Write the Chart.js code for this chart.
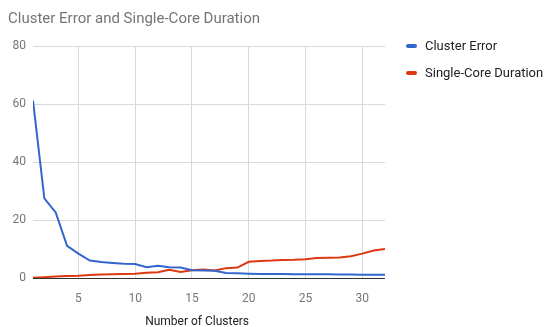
<!DOCTYPE html>
<html lang="en">
<head>
    <meta charset="UTF-8">
    <script src="https://cdn.jsdelivr.net/npm/chart.js"></script>
    <title>Cluster Error and Single-Core Duration</title>
    <style>
        html, body { margin: 0; padding: 0; background: #fff; }
        #wrap { position: relative; width: 548px; height: 327px; }
        #legend { position: absolute; left: 406px; top: 37px; font: 13px Roboto, sans-serif; color: #222; }
        #legend div { height: 27px; line-height: 18px; white-space: nowrap; }
        #legend span { display: inline-block; width: 11px; height: 4px; border-radius: 2px; margin-right: 8px; vertical-align: middle; position: relative; top: -1px; }
    </style>
</head>
<body>
<div id="wrap">
    <canvas id="myChart" width="548" height="327"></canvas>
    <div id="legend"></div>
</div>

<script>
    // datos
    var clusters = [];
    for (var i = 1; i <= 32; i++) clusters.push(i);

    var clusterError = [61.2, 27.5, 22.6, 11.1, 8.4, 6.0, 5.5, 5.2, 4.9, 4.8,
        3.7, 4.2, 3.7, 3.6, 2.7, 2.6, 2.5, 1.7, 1.6, 1.5,
        1.4, 1.4, 1.4, 1.3, 1.3, 1.3, 1.3, 1.2, 1.2, 1.1, 1.1, 1.1];

    var singleCore = [0.1, 0.3, 0.5, 0.7, 0.8, 1.0, 1.2, 1.3, 1.4, 1.5,
        1.8, 2.0, 2.8, 2.1, 2.7, 2.9, 2.6, 3.4, 3.6, 5.6,
        5.9, 6.0, 6.2, 6.3, 6.5, 6.9, 7.0, 7.1, 7.5, 8.4, 9.5, 10.0];

    var xTicks = [5, 10, 15, 20, 25, 30];
    var yTicks = [0, 20, 40, 60, 80];

    var seriesNames = ['Cluster Error', 'Single-Core Duration'];
    var colors = ['#3366cc', '#dc3912'];

    function toPoints(arr) {
        return arr.map(function (v, i) { return { x: clusters[i], y: v }; });
    }

    var ctx = document.getElementById('myChart').getContext('2d');
    var myChart = new Chart(ctx, {
        type: 'line',
        data: {
            datasets: [{
                label: seriesNames[0],
                data: toPoints(clusterError),
                borderColor: colors[0],
                backgroundColor: colors[0],
                borderWidth: 2,
                pointRadius: 0,
                tension: 0
            }, {
                label: seriesNames[1],
                data: toPoints(singleCore),
                borderColor: colors[1],
                backgroundColor: colors[1],
                borderWidth: 2,
                pointRadius: 0,
                tension: 0
            }]
        },
        options: {
            responsive: false,
            animation: false,
            layout: { padding: { left: 8, right: 163, top: 0, bottom: 0 } },
            plugins: {
                legend: { display: false },
                tooltip: { enabled: false },
                title: {
                    display: true,
                    text: 'Cluster Error and Single-Core Duration',
                    align: 'start',
                    color: '#757575',
                    font: { family: 'Roboto', size: 15, weight: 'normal' },
                    padding: { top: 10, bottom: 18 }
                }
            },
            scales: {
                x: {
                    type: 'linear',
                    min: 1,
                    max: 32,
                    afterBuildTicks: function (axis) {
                        axis.ticks = xTicks.map(function (v) { return { value: v }; });
                    },
                    afterFit: function (axis) { axis.height = 49; },
                    grid: { color: '#d9d9d9', drawTicks: false },
                    border: { display: false },
                    ticks: {
                        color: '#757575',
                        font: { family: 'Roboto', size: 12 },
                        padding: 14,
                        maxRotation: 0
                    },
                    title: {
                        display: true,
                        // espacios al final para correr el titulo a la izquierda como en el original
                        text: 'Number of Clusters\u00a0\u00a0\u00a0\u00a0\u00a0\u00a0\u00a0\u00a0',
                        color: '#222',
                        font: { family: 'Roboto', size: 12 },
                        padding: { top: 0, bottom: -2.5 }
                    }
                },
                y: {
                    min: 0,
                    max: 80,
                    afterBuildTicks: function (axis) {
                        axis.ticks = yTicks.map(function (v) { return { value: v }; });
                    },
                    afterFit: function (axis) { axis.width = 25; },
                    grid: {
                        drawTicks: false,
                        color: function (c) { return c.tick && c.tick.value === 0 ? '#333' : '#d9d9d9'; }
                    },
                    border: { display: false },
                    ticks: {
                        color: '#757575',
                        font: { family: 'Roboto', size: 12 },
                        padding: 7
                    }
                }
            }
        }
    });

    // leyenda a la derecha
    var legend = document.getElementById('legend');
    seriesNames.forEach(function (name, i) {
        var d = document.createElement('div');
        d.innerHTML = '<span style="background:' + colors[i] + '"></span>' + name;
        legend.appendChild(d);
    });
</script>
</body>
</html>
